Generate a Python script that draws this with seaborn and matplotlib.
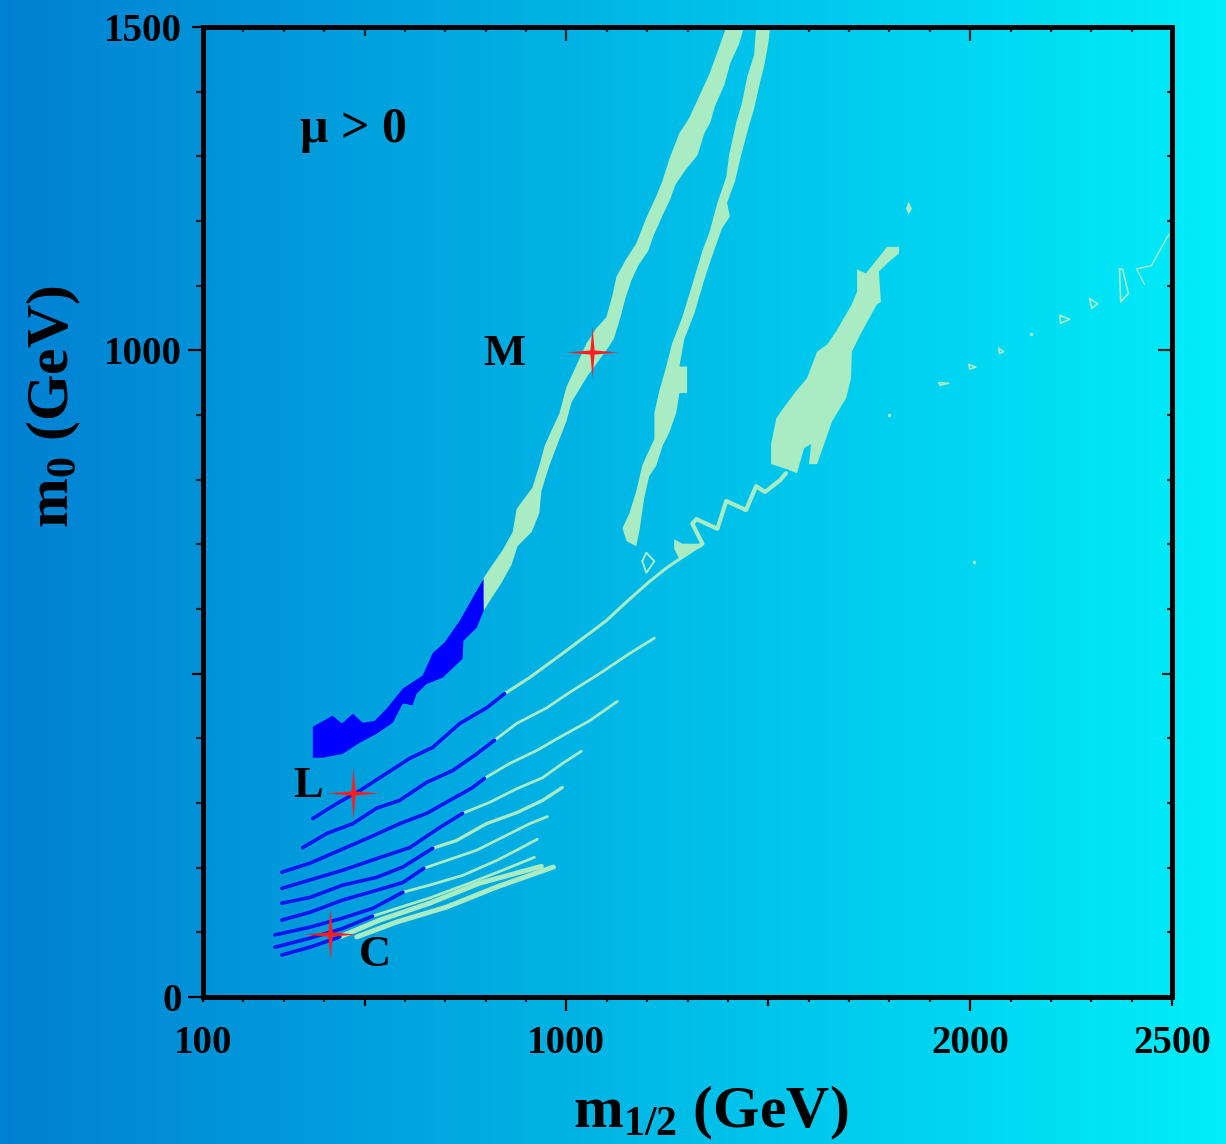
import numpy as np
import pandas as pd
import matplotlib
matplotlib.use("Agg")
import matplotlib.pyplot as plt
from matplotlib.path import Path
from matplotlib.markers import MarkerStyle
from matplotlib.ticker import FixedLocator, MultipleLocator, FixedFormatter, NullFormatter
import seaborn as sns

# ------------------------------------------------------------------ data
x_ticks = [100, 500, 1000, 1500, 2000, 2500]
x_tick_labels = ["100", "", "1000", "", "2000", "2500"]
y_ticks = [0, 500, 1000, 1500]
y_tick_labels = ["0", "", "1000", "1500"]

bench_names = ["M", "L", "C"]
bench_m12 = [1064, 471, 414]
bench_m0 = [997, 315, 97]
label_m12 = [847, 360, 525]
label_m0 = [995, 327, 65]

# light-green band A (upper part of the left strip)
bandA_m12 = [1396, 1374, 1354, 1329, 1304, 1280, 1255, 1238, 1223, 1198,
             1173, 1149, 1124, 1114, 1099, 1074, 1050, 1025, 1000, 983,
             966, 946, 933, 916, 877, 867, 842, 810, 792,
             795, 817, 839, 864, 879, 914, 933, 938, 958, 983,
             1000, 1013, 1052, 1099, 1117, 1134, 1146, 1161, 1178, 1203,
             1215, 1240, 1257, 1270, 1295, 1325, 1342, 1357, 1367, 1391,
             1406, 1428, 1440]
bandA_m0 = [1500, 1461, 1427, 1393, 1359, 1336, 1296, 1262, 1239, 1205,
            1165, 1142, 1114, 1085, 1051, 1034, 1011, 977, 943, 903,
            880, 852, 822, 788, 755, 719, 691, 662, 645,
            597, 619, 640, 668, 697, 719, 748, 782, 822, 863,
            890, 920, 960, 1000, 1017, 1051, 1080, 1108, 1131, 1154,
            1176, 1211, 1233, 1256, 1279, 1302, 1336, 1353, 1376, 1410,
            1444, 1474, 1500]

# blue lower part of the left strip
blue_m12 = [795, 773, 736, 698, 669, 644, 595, 555, 525, 496, 471, 444, 421, 372,
            372, 397, 446, 488, 530, 570, 595, 619, 629, 654, 694, 743, 745, 778, 795]
blue_m0 = [647, 623, 582, 548, 532, 497, 477, 446, 427, 424, 438, 423, 435, 418,
           370, 370, 376, 393, 407, 424, 454, 451, 469, 484, 494, 523, 551, 571, 597]

# light-green band B (middle strip)
bandB_m12 = [1470, 1465, 1448, 1435, 1421, 1403, 1396, 1374, 1354, 1337,
             1312, 1287, 1262, 1247, 1230, 1218, 1218, 1198, 1188, 1173,
             1156, 1139, 1149, 1173,
             1181, 1193, 1205, 1223, 1238, 1255, 1272, 1280, 1299, 1299,
             1280, 1292, 1317, 1341, 1359, 1385, 1405, 1398, 1418, 1433,
             1450, 1466, 1478, 1490, 1500, 1505]
bandB_m0 = [1500, 1457, 1423, 1383, 1353, 1302, 1268, 1228, 1182, 1154,
            1102, 1051, 1011, 974, 937, 903, 863, 836, 822, 782,
            748, 725, 705, 697,
            721, 772, 805, 822, 852, 873, 903, 934, 934, 975,
            975, 1017, 1057, 1108, 1142, 1188, 1207, 1228, 1262, 1302,
            1342, 1376, 1410, 1440, 1474, 1500]

# light-green region C (right blob)
regC_m12 = [1794, 1824, 1824, 1799, 1774, 1779, 1769, 1732, 1707, 1705,
            1693, 1658, 1621, 1601, 1606, 1589, 1571, 1547, 1507, 1507,
            1520, 1532, 1569, 1596, 1621, 1646, 1668, 1707, 1720, 1720,
            1742, 1779]
regC_m0 = [1160, 1160, 1150, 1137, 1122, 1075, 1071, 1029, 998, 957,
           926, 890, 824, 824, 855, 849, 810, 816, 824, 855,
           895, 906, 937, 957, 998, 1009, 1029, 1071, 1091, 1125,
           1119, 1148]

# zig-zag ribbon joining the strips to region C
zig_m12 = [1329, 1337, 1312, 1322, 1374, 1396, 1445, 1470, 1492, 1529, 1544]
zig_m0 = [697, 701, 732, 739, 724, 767, 753, 790, 781, 799, 810]
wedge_m12 = [1267, 1287, 1337, 1280, 1267]
wedge_m0 = [708, 701, 701, 677, 693]
loop_m12 = [1188, 1198, 1218, 1198, 1188]
loop_m0 = [674, 687, 674, 656, 674]
kite_m12 = [1848, 1856, 1848, 1841]
kite_m0 = [1230, 1219, 1210, 1219]

# small outlined islands on the right
islands_m12 = [[1923, 1947, 1925, 1923], [1997, 2014, 1999, 1997],
               [2071, 2083, 2073, 2071], [2222, 2247, 2224, 2222],
               [2296, 2316, 2301, 2296], [2370, 2378, 2392, 2373, 2370]]
islands_m0 = [[950, 949, 946, 950], [978, 974, 971, 978],
              [1003, 998, 995, 1003], [1054, 1048, 1042, 1054],
              [1080, 1072, 1065, 1080], [1126, 1125, 1088, 1075, 1126]]
tail_m12 = [2432, 2412, 2449, 2489, 2500]
tail_m0 = [1102, 1126, 1131, 1176, 1183]
dots_m12 = [2150, 2009, 1799]
dots_m0 = [1025, 673, 900]

# thin strips (blue part then green part), lower-left
strip_blue_m12 = [
    [372, 431, 488, 555, 612, 669, 736, 802, 847],
    [347, 407, 471, 530, 587, 654, 718, 778, 822],
    [295, 365, 439, 513, 587, 654, 711, 768, 797],
    [295, 365, 446, 530, 612, 686, 743],
    [295, 365, 446, 530, 595, 669],
    [295, 365, 446, 530, 595, 647],
    [278, 365, 446, 520, 595],
    [278, 365, 446, 520],
    [295, 365, 439],
]
strip_blue_m0 = [
    [276, 299, 319, 346, 369, 386, 423, 447, 469],
    [231, 253, 268, 292, 304, 332, 350, 376, 397],
    [193, 207, 227, 247, 268, 284, 304, 324, 338],
    [168, 181, 196, 214, 231, 262, 284],
    [145, 154, 173, 185, 201, 230],
    [119, 131, 150, 165, 177, 199],
    [96, 108, 122, 137, 162],
    [77, 91, 106, 125],
    [65, 77, 93],
]
strip_green_m12 = [
    [847, 909, 990, 1099, 1149, 1205, 1247, 1280, 1329],
    [822, 877, 951, 1008, 1082, 1156, 1218],
    [797, 859, 926, 990, 1057, 1126],
    [743, 810, 877, 941, 990, 1037],
    [669, 728, 802, 877, 941, 990],
    [647, 703, 778, 842, 909, 953],
    [595, 661, 743, 827, 877, 928],
    [520, 580, 661, 760, 842, 921],
    [439, 538, 661, 785, 938],
    [481, 580, 703, 827, 968],
]
strip_green_m0 = [
    [469, 494, 531, 582, 611, 642, 663, 677, 697],
    [397, 423, 447, 471, 500, 531, 555],
    [338, 361, 381, 404, 427, 457],
    [284, 301, 322, 339, 361, 380],
    [230, 242, 268, 285, 304, 324],
    [199, 211, 227, 247, 268, 279],
    [162, 173, 188, 211, 227, 244],
    [125, 137, 153, 176, 196, 216],
    [93, 119, 145, 176, 202],
    [93, 116, 139, 170, 201],
]
strip_green_width = [2.2, 2.0, 2.0, 2.0, 2.4, 2.0, 2.0, 2.0, 3.6, 3.6]

# ------------------------------------------------------------------ style
sns.set_style("ticks")
plt.rcParams["font.family"] = ["Liberation Serif", "DejaVu Serif"]
plt.rcParams["font.weight"] = "bold"
plt.rcParams["mathtext.fontset"] = "custom"
plt.rcParams["mathtext.rm"] = "Liberation Serif:bold"
plt.rcParams["mathtext.it"] = "Liberation Serif:bold"
plt.rcParams["mathtext.bf"] = "Liberation Serif:bold"
plt.rcParams["mathtext.default"] = "rm"

GREEN = "#a9ebc3"
BLUE = "#0000ff"
LBLUE = "#1414ee"
RED = "#ff1e1e"

fig = plt.figure(figsize=(12.26, 11.44), dpi=100)

# horizontal gradient background for the whole figure
bg = fig.add_axes([0, 0, 1, 1])
t = np.linspace(0, 1, 512)
left_c = np.array([0, 128, 210]) / 255.0
right_c = np.array([0, 238, 250]) / 255.0
grad = (left_c[None, :] * (1 - t[:, None]) + right_c[None, :] * t[:, None])[None, :, :]
bg.imshow(grad, aspect="auto", extent=[0, 1, 0, 1])
bg.set_axis_off()
bg.set_zorder(0)

ax = fig.add_axes([203 / 1226, 147 / 1144, 969 / 1226, 970 / 1144])
ax.set_zorder(1)
ax.patch.set_alpha(0)

# ------------------------------------------------------------------ regions
ax.fill(bandA_m12, bandA_m0, color=GREEN, lw=0, zorder=1)
ax.fill(blue_m12, blue_m0, color=BLUE, lw=0, zorder=1)
ax.fill(bandB_m12, bandB_m0, color=GREEN, lw=0, zorder=1)
ax.fill(regC_m12, regC_m0, color=GREEN, lw=0, zorder=1)
ax.fill(wedge_m12, wedge_m0, color=GREEN, lw=0, zorder=1)
ax.fill(kite_m12, kite_m0, color=GREEN, lw=0, zorder=1)

sns.lineplot(x=zig_m12, y=zig_m0, sort=False, estimator=None, color=GREEN,
             lw=3.0, ax=ax, zorder=2)
sns.lineplot(x=loop_m12, y=loop_m0, sort=False, estimator=None, color=GREEN,
             lw=1.4, ax=ax, zorder=2)
for xs, ys in zip(islands_m12, islands_m0):
    sns.lineplot(x=xs, y=ys, sort=False, estimator=None, color=GREEN,
                 lw=1.2, ax=ax, zorder=2)
sns.lineplot(x=tail_m12, y=tail_m0, sort=False, estimator=None, color=GREEN,
             lw=1.0, ax=ax, zorder=2)
sns.scatterplot(x=dots_m12, y=dots_m0, color=GREEN, s=6, linewidth=0,
                ax=ax, zorder=2)

for xs, ys, w in zip(strip_green_m12, strip_green_m0, strip_green_width):
    sns.lineplot(x=xs, y=ys, sort=False, estimator=None, color=GREEN,
                 lw=w, ax=ax, zorder=2)
for xs, ys in zip(strip_blue_m12, strip_blue_m0):
    sns.lineplot(x=xs, y=ys, sort=False, estimator=None, color=LBLUE,
                 lw=2.6, ax=ax, zorder=3)

# ------------------------------------------------------------------ benchmarks
star_path = Path(
    [(0, 1), (0.08, 0.08), (1, 0), (0.08, -0.08), (0, -1),
     (-0.08, -0.08), (-1, 0), (-0.08, 0.08), (0, 1)],
    [Path.MOVETO] + [Path.LINETO] * 7 + [Path.CLOSEPOLY])
bench = pd.DataFrame({"m12": bench_m12, "m0": bench_m0, "name": bench_names})
sns.scatterplot(data=bench, x="m12", y="m0", marker=MarkerStyle(star_path),
                s=1400, color=RED, linewidth=0, ax=ax, zorder=5, legend=False)
for n, lx, ly in zip(bench_names, label_m12, label_m0):
    ax.text(lx, ly, n, fontsize=32, fontweight="bold", ha="center",
            va="center", color="black", zorder=6)

ax.text(340, 1322, "\u03bc > 0", fontsize=36, fontweight="bold",
        ha="left", va="baseline", color="black", zorder=6)

# ------------------------------------------------------------------ axes
ax.set_xlim(100, 2500)
ax.set_ylim(0, 1500)
ax.set_xlabel("")
ax.set_ylabel("")
for sp in ax.spines.values():
    sp.set_visible(True)
    sp.set_linewidth(3.6)
    sp.set_color("black")

ax.xaxis.set_major_locator(FixedLocator(x_ticks))
ax.xaxis.set_major_formatter(FixedFormatter(x_tick_labels))
ax.xaxis.set_minor_locator(MultipleLocator(100))
ax.yaxis.set_major_locator(FixedLocator(y_ticks))
ax.yaxis.set_major_formatter(FixedFormatter(y_tick_labels))
ax.yaxis.set_minor_locator(MultipleLocator(100))

ax.tick_params(axis="x", which="major", direction="out", length=10, width=1.6,
               pad=10, labelsize=28, colors="black", top=False)
ax.tick_params(axis="x", which="minor", direction="out", length=3.4, width=1.6,
               top=False)
ax.tick_params(axis="y", which="major", direction="out", length=11, width=1.6,
               pad=4, labelsize=28, colors="black", right=False)
ax.tick_params(axis="y", which="minor", direction="out", length=5, width=1.6,
               right=False)
for lab in ax.get_xticklabels() + ax.get_yticklabels():
    lab.set_fontweight("bold")

# inward ticks on top and right
secx = ax.secondary_xaxis("top")
secx.xaxis.set_major_locator(FixedLocator(x_ticks))
secx.xaxis.set_minor_locator(MultipleLocator(100))
secx.xaxis.set_major_formatter(NullFormatter())
secx.tick_params(axis="x", which="major", direction="in", length=10, width=1.6)
secx.tick_params(axis="x", which="minor", direction="in", length=3.6, width=1.6)
secy = ax.secondary_yaxis("right")
secy.yaxis.set_major_locator(FixedLocator(y_ticks))
secy.yaxis.set_minor_locator(MultipleLocator(100))
secy.yaxis.set_major_formatter(NullFormatter())
secy.tick_params(axis="y", which="major", direction="in", length=11, width=1.6)
secy.tick_params(axis="y", which="minor", direction="in", length=3.6, width=1.6)
for s in (secx, secy):
    for sp in s.spines.values():
        sp.set_visible(False)

xlen = {100: 3.4, 500: 6.5, 1000: 10, 1500: 6.5, 2000: 10, 2500: 6.5}
ylen = {0: 11, 500: 8, 1000: 11, 1500: 8}
for tk, v in zip(ax.xaxis.get_major_ticks(), x_ticks):
    tk.tick1line.set_markersize(xlen[v])
for tk, v in zip(secx.xaxis.get_major_ticks(), x_ticks):
    tk.tick1line.set_markersize(xlen[v])
    tk.tick2line.set_markersize(xlen[v])
for tk, v in zip(ax.yaxis.get_major_ticks(), y_ticks):
    tk.tick1line.set_markersize(ylen[v])
for tk, v in zip(secy.yaxis.get_major_ticks(), y_ticks):
    tk.tick1line.set_markersize(ylen[v] - 1)
    tk.tick2line.set_markersize(ylen[v] - 1)

fig.text(711 / 1226, (1144 - 1127) / 1144, "m$_{1/2}$ (GeV)", fontsize=43,
         fontweight="bold", ha="center", va="baseline", color="black")
fig.text(54 / 1226, (1144 - 407) / 1144, "m$_{0}$ (GeV)", fontsize=43,
         fontweight="bold", ha="center", va="center", rotation=90,
         color="black")

fig.savefig("out.png", dpi=100)
